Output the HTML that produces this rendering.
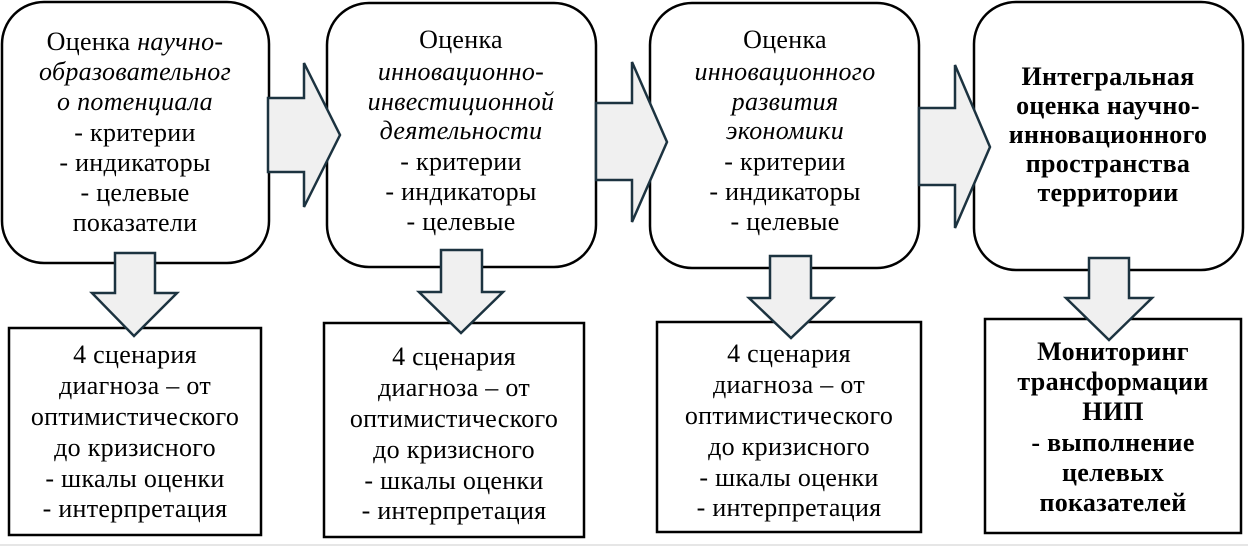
<!DOCTYPE html>
<html><head><meta charset="utf-8"><style>
html,body{margin:0;padding:0;background:#fff;}
svg{display:block}
text{font-family:"Liberation Serif","DejaVu Serif",serif;font-size:26px;fill:#000;text-anchor:middle;letter-spacing:0.3px}
.i{font-style:italic}
.b{font-weight:bold;font-size:26px}
</style></head><body>
<svg width="1248" height="549" viewBox="0 0 1248 549" xmlns="http://www.w3.org/2000/svg">
<rect x="0" y="0" width="1248" height="549" fill="#fff"/>
<line x1="0" y1="545" x2="1248" y2="545" stroke="#e6e6e6" stroke-width="2"/>
<g fill="#fff" stroke="#000" stroke-width="2.5">
<rect x="2" y="2" width="267" height="261" rx="42"/>
<rect x="327" y="3" width="269" height="264" rx="42"/>
<rect x="650" y="3" width="269" height="265" rx="42"/>
<rect x="974" y="2" width="269" height="268" rx="42"/>
<rect x="9" y="328" width="252" height="207"/>
<rect x="324" y="323" width="260" height="214"/>
<rect x="657" y="322" width="264" height="210"/>
<rect x="985" y="319" width="256" height="214"/>
</g>
<g fill="#f0f0f0" stroke="#1c3340" stroke-width="2.5" stroke-linejoin="miter">
<polygon points="268,98 304,98 304,63 340,135 304,207 304,172 268,172"/>
<polygon points="596,103 632,103 632,62 667,142 632,222 632,180 596,180"/>
<polygon points="919,108 955,108 955,65 990,147 955,228 955,185 919,185"/>
<polygon points="115,253 155,253 155,293 177,293 134,336 92,293 115,293"/>
<polygon points="441,250 482,250 482,292 503,292 461,333 419,292 441,292"/>
<polygon points="770,256 811,256 811,298 833,298 791,338 749,298 770,298"/>
<polygon points="1089,258 1129,258 1129,298 1152,298 1109,340 1066,298 1089,298"/>
</g>
<text x="135" y="50">Оценка <tspan class="i">научно-</tspan></text>
<text x="135" y="80" class="i">образовательног</text>
<text x="135" y="110" class="i">о потенциала</text>
<text x="135" y="141">- критерии</text>
<text x="135" y="171">- индикаторы</text>
<text x="135" y="201">- целевые</text>
<text x="135" y="231">показатели</text>

<text x="461" y="48">Оценка</text>
<text x="461" y="80" class="i">инновационно-</text>
<text x="461" y="110" class="i">инвестиционной</text>
<text x="461" y="139" class="i">деятельности</text>
<text x="461" y="170">- критерии</text>
<text x="461" y="200">- индикаторы</text>
<text x="461" y="230">- целевые</text>

<text x="785" y="48">Оценка</text>
<text x="785" y="80" class="i">инновационного</text>
<text x="785" y="110" class="i">развития</text>
<text x="785" y="139" class="i">экономики</text>
<text x="785" y="170">- критерии</text>
<text x="785" y="200">- индикаторы</text>
<text x="785" y="230">- целевые</text>

<text x="1108" y="85" class="b">Интегральная</text>
<text x="1108" y="114" class="b">оценка научно-</text>
<text x="1108" y="143" class="b">инновационного</text>
<text x="1108" y="172" class="b">пространства</text>
<text x="1108" y="201" class="b">территории</text>

<text x="135" y="363">4 сценария</text>
<text x="135" y="394">диагноза – от</text>
<text x="135" y="425">оптимистического</text>
<text x="135" y="456">до кризисного</text>
<text x="135" y="487">- шкалы оценки</text>
<text x="135" y="517">- интерпретация</text>

<text x="454" y="365">4 сценария</text>
<text x="454" y="396">диагноза – от</text>
<text x="454" y="427">оптимистического</text>
<text x="454" y="458">до кризисного</text>
<text x="454" y="489">- шкалы оценки</text>
<text x="454" y="519">- интерпретация</text>

<text x="789" y="362">4 сценария</text>
<text x="789" y="393">диагноза – от</text>
<text x="789" y="424">оптимистического</text>
<text x="789" y="455">до кризисного</text>
<text x="789" y="486">- шкалы оценки</text>
<text x="789" y="516">- интерпретация</text>

<text x="1113" y="360" class="b">Мониторинг</text>
<text x="1113" y="390" class="b">трансформации</text>
<text x="1113" y="420" class="b">НИП</text>
<text x="1113" y="451" class="b"> - выполнение</text>
<text x="1113" y="481" class="b">целевых</text>
<text x="1113" y="511" class="b">показателей</text>
</svg>
</body></html>
